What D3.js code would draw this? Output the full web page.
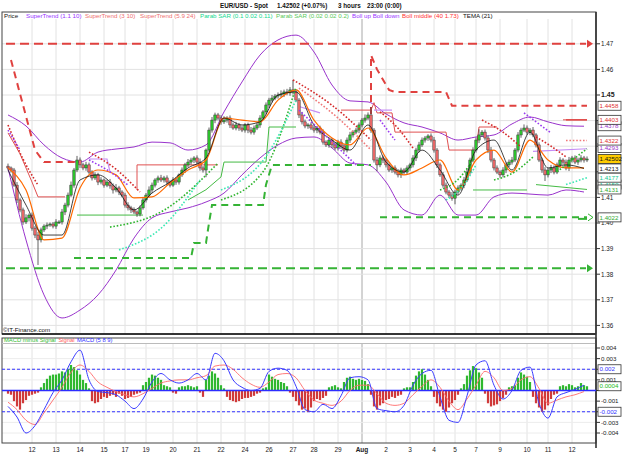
<!DOCTYPE html>
<html>
<head>
<meta charset="utf-8">
<script src="https://cdn.jsdelivr.net/npm/d3@7"></script>
<style>
  body { margin: 0; background: #fff; }
  svg { display: block; font-family: Arial, "Liberation Sans", sans-serif; }
</style>
</head>
<body>
<svg id="chart" width="625" height="455"></svg>
<script>
// ---- data (prices as pips above 1.4000, macd in units of 0.0001) ----
const dateLabels = ['12','13','14','15','17','19','20','21','22','24','26','27','28','29','Aug','2','3','4','5','7','9','10','11','12']
const dateBars = [8,16,24,32,39,46,55,63,71,79,87,95,102,110,118,126,134,142,149,156,164,173,180,188]

const closes = [215,207,148,90,51,4,20,31,-20,-47,-66,-27,-12,-8,-4,-12,4,4,43,70,
  109,148,207,246,227,215,227,199,176,188,160,168,148,160,145,129,137,121,109,70,
  59,51,43,35,59,90,109,129,148,168,176,168,176,160,148,168,160,188,207,227,
  238,246,254,238,215,207,285,363,402,422,410,395,402,410,383,371,383,371,363,383,
  363,355,371,383,410,434,461,480,488,496,500,504,512,508,520,512,480,422,395,379,
  383,371,363,371,355,316,305,324,305,293,316,301,285,324,344,355,363,383,402,410,
  422,363,246,227,254,246,227,207,215,199,188,207,199,215,227,254,285,305,324,332,
  340,324,285,227,188,148,121,109,97,121,137,148,168,199,246,285,324,344,355,332,
  285,246,215,199,188,207,227,238,246,285,344,363,371,355,363,344,305,246,207,188,
  207,215,199,227,246,238,215,246,254,238,246,254,246,250]
const upWick = [10,6,8,12,7,9,14,6,10,8, 12,9,7,10,6,8,11,7,12,9, 10,14,8,16,10,8,12,9,7,10,
  8,11,6,9,12,10,15,8,7,9, 11,8,10,6,9,12,8,14,10,7, 9,12,8,10,7,11,9,6,10,8,
  12,9,7,10,14,8,6,10,12,9, 8,11,15,7,10,9,12,8,10,7, 9,12,10,8,11,7,10,9,12,8,
  10,14,9,12,11,39,10,8,12,9, 7,10,12,8,9,11,7,10,8,12, 9,11,8,10,12,7,9,10,8,14,
  10,31,8,12,10,9,7,11,8,10, 12,9,7,10,8,11,9,12,10,8, 7,10,12,8,9,11,10,8,12,9,
  10,7,12,14,9,11,10,22,8,10, 9,12,8,10,7,11,9,10,12,8, 11,9,14,10,8,12,7,10,9,11,
  8,12,10,9,11,7,10,12,8,10, 9,11,8,10]
const dnWick = [8,10,7,12,9,11,8,14,10,12, 98,10,8,12,7,9,11,8,10,12, 9,7,10,8,12,9,11,7,10,8,
  12,9,10,8,11,14,9,12,8,10, 10,12,8,11,9,7,10,8,12,9, 11,8,10,12,9,7,11,10,8,12,
  9,10,12,8,11,10,28,8,10,12, 9,11,8,10,12,7,9,11,8,10, 12,9,10,8,11,7,10,12,9,8,
  10,8,12,9,11,10,8,12,10,9, 11,8,10,12,9,10,8,11,12,9, 10,12,8,9,11,10,8,12,9,10,
  8,11,10,24,9,12,10,8,11,9, 10,12,9,8,11,10,12,9,8,10, 11,9,10,12,8,10,9,11,10,24,
  9,10,12,8,11,9,10,12,8,10, 12,9,10,8,11,10,12,9,10,8, 9,11,8,10,12,9,10,8,11,24,
  10,12,9,8,11,10,9,12,10,8, 11,9,10,8]

// indicators sampled every 6 bars
const bollUp = [1.4422,1.4379,1.4305,1.4254,1.4238,1.4277,1.4289,1.4297,1.4316,1.4313,1.4285,1.4305,1.4434,
  1.4551,1.4656,1.4715,1.4734,1.4668,1.4539,1.4477,1.4473,1.4426,1.4391,1.4375,1.4352,1.4324,1.4336,1.4344,
  1.4387,1.4414,1.4395,1.4380,1.4378]
const bollDn = [1.4215,1.3934,1.3719,1.3629,1.3660,1.3719,1.3816,1.3941,1.4020,1.4043,1.4059,1.4082,1.4117,
  1.4188,1.4254,1.4305,1.4332,1.4336,1.4293,1.4234,1.4227,1.4160,1.4051,1.4031,1.4109,1.4031,1.4031,1.4102,
  1.4117,1.4113,1.4109,1.4129,1.4121]
const bollMid = [1.4215,1.4129,1.3934,1.3941,1.4137,1.4207,1.4188,1.4098,1.4102,1.4156,1.4207,1.4246,1.4410,
  1.4402,1.4395,1.4480,1.4520,1.4402,1.4332,1.4305,1.4371,1.4254,1.4188,1.4215,1.4246,1.4129,1.4246,1.4285,
  1.4199,1.4324,1.4246,1.4215,1.4215]
const tema = [1.4207,1.4070,1.3953,1.3953,1.4168,1.4188,1.4137,1.4051,1.4117,1.4160,1.4215,1.4254,1.4410,
  1.4383,1.4395,1.4500,1.4512,1.4383,1.4324,1.4285,1.4383,1.4238,1.4199,1.4285,1.4207,1.4109,1.4285,1.4324,
  1.4207,1.4355,1.4215,1.4227,1.4213]

// SuperTrend / SAR runs as [bar, price]
const levelLines = [1.4700, 1.3823]
const stThickRed = [
  [[1,1.4637],[9,1.4285],[12,1.4238],[24,1.4238]],
  [[121,1.4426],[121,1.4656],[123,1.4600],[127,1.4520],[129,1.4512],[146,1.4512],[148,1.4458],[193,1.4458]]
]
const stThickGreen = [
  [[22,1.3863],[61,1.3863],[62,1.3922],[66,1.3922],[67,1.4000],[68,1.4070],[85,1.4070],[86,1.4150],[88,1.4227],[121,1.4227]],
  [[124,1.4022],[193,1.4022]]
]
const stThinRed = [
  [[0,1.4352],[4,1.4270],[8,1.4160],[10,1.4102],[19,1.4102]],
  [[43,1.4129],[43,1.4227],[70,1.4227]],
  [[111,1.4441],[121,1.4441],[122,1.4470],[123,1.4430],[128,1.4430],[129,1.4355],[146,1.4355],[147,1.4285],[156,1.4285],[157,1.4375],[163,1.4375]],
  [[185,1.4403],[193,1.4403]]
]
const stThinGreen = [
  [[23,1.4031],[45,1.4031]],
  [[60,1.4090],[66,1.4130],[71,1.4180],[72,1.4238],[86,1.4238],[87,1.4375],[96,1.4375]],
  [[155,1.4129],[173,1.4129]],
  [[176,1.4150],[193,1.4131]]
]
const stLavender = [
  [[27,1.4250],[33,1.4250],[34,1.4200]],
  [[97,1.4455],[104,1.4430]],
  [[122,1.4441],[128,1.4441]],
  [[175,1.4280],[193,1.4290]]
]
const sarRed = [
  [[0,1.4383],[5,1.4250],[10,1.4148]],
  [[27,1.4277],[36,1.4210],[44,1.4121]],
  [[95,1.4559],[108,1.4460],[121,1.4324]],
  [[124,1.4434],[130,1.4370],[135,1.4293]],
  [[158,1.4402],[165,1.4355],[171,1.4297]],
  [[176,1.4336],[181,1.4300],[186,1.4258]]
]
const sarRedLight = [
  [[97,1.4527],[110,1.4410],[121,1.4285]],
  [[186,1.4322],[193,1.4322]]
]
const sarGreen = [
  [[34,1.3984],[52,1.4050],[70,1.4234]],
  [[71,1.4090],[85,1.4200],[96,1.4531]],
  [[144,1.4129],[150,1.4170],[155,1.4246]],
  [[162,1.4168],[169,1.4200],[175,1.4258]],
  [[183,1.4200],[193,1.4290]]
]
const sarMint = [
  [[37,1.3895],[52,1.3990],[64,1.4168]],
  [[71,1.4129],[86,1.4260],[96,1.4480]],
  [[146,1.4090],[152,1.4150],[156,1.4227]],
  [[186,1.4150],[193,1.4177]]
]
const sarPurple = [
  [[0,1.4363],[4,1.4285]],
  [[27,1.4246],[34,1.4200],[40,1.4148]],
  [[97,1.4441],[106,1.4340],[116,1.4227]],
  [[124,1.4402],[129,1.4324]],
  [[172,1.4430],[181,1.4352]]
]

// MACD
const macdHist = [-3,-4,-10,-15,-18,-12,-9,-5,-4,-3, -2,3,7,11,14,15,15,16,18,17, 20,24,22,19,15,10,7,2,-10,-12,
  -11,-8,-6,-7,-5,-4,-6,-3,-5,-8, -7,-6,-4,-3,-2,5,8,12,15,14, 12,10,5,4,3,-2,-3,3,4,4,
  5,4,3,4,-2,-6,10,14,18,16, 12,5,2,-6,-9,-10,-11,-10,-8,-7, -7,-6,-5,-3,-2,2,3,15,13,11,
  10,8,7,4,-2,-6,-10,-14,-18,-17, -20,-16,-10,-8,-9,-7,-5,3,4,5, 3,2,8,12,13,11,10,11,10,9,
  6,-4,-15,-18,-14,-12,-9,-8,-6,-7, -5,-4,2,3,3,8,14,18,20,15, 10,4,-6,-12,-15,-18,-20,-16,-12,-9,
  -4,2,6,14,19,23,21,17,12,-3, -12,-15,-14,-13,-10,-7,-4,3,4,5, 12,17,15,13,8,-6,-12,-16,-20,-18,
  -14,-8,-4,-3,4,5,4,6,5,3, 4,7,5,4]
// sampled every 3 bars
const macdLine = [-15,-25,-40,-33,-18,-2,10,27,38,10,-1,-2,-4,-10,-17,-8,8,16,10,7,10,16,10,35,28,10,3,0,2,18,
  21,19,4,-18,-20,-13,-17,-5,12,13,10,-17,-19,-20,-14,5,16,19,-6,-28,-30,-5,24,28,5,-8,0,19,22,-12,-26,-6,-2,1,5]
const signalLine = [-11,-18,-28,-32,-21,-9,3,17,24,18,8,3,-1,-4,-6,-3,2,7,9,10,10,12,14,23,24,20,12,6,3,8,
  15,16,12,0,-9,-12,-14,-10,0,5,5,-3,-12,-14,-12,-4,4,10,3,-10,-18,-8,5,18,12,0,2,10,13,2,-12,-9,-6,-4,-1]

const priceTicks = [1.36,1.37,1.38,1.39,1.40,1.41,1.42,1.43,1.44,1.45,1.46,1.47]
const macdTicks = [-0.004,-0.003,-0.002,-0.001,0,0.001,0.002,0.003,0.004]
const lastClose = 1.42502

// ---- layout ----
const svg = d3.select('#chart')
const N = closes.length
const left = 2, right = 596
const mainTop = 12, mainBottom = 334
const macdTop = 338, macdBottom = 443
const px = p => 1.4 + p / 10000

const x = d3.scaleLinear().domain([0, N - 1]).range([8, 8 + 3 * (N - 1)])
const y = d3.scaleLinear().domain([1.36, 1.47]).range([325.4, 43.8])
const ym = d3.scaleLinear().domain([-0.004, 0.004]).range([433, 348])

// title
const title = [['EUR/USD - Spot', 220], ['1.42502 (+0.07%)', 277], ['3 hours', 338], ['23:00 (0:00)', 367]]
svg.selectAll('.title').data(title).enter().append('text')
  .attr('x', d => d[1]).attr('y', 8).attr('font-size', 6.3).attr('font-weight', 'bold')
  .attr('fill', '#111').text(d => d[0])

// grids
const grid = svg.append('g')
grid.selectAll('.vg').data(dateBars).enter().append('line')
  .attr('x1', d => x(d)).attr('x2', d => x(d))
  .attr('y1', 19).attr('y2', mainBottom)
  .attr('stroke', (d, i) => dateLabels[i] === 'Aug' ? '#a8a8a8' : '#e2e2e2')
grid.selectAll('.vg2').data(dateBars).enter().append('line')
  .attr('x1', d => x(d)).attr('x2', d => x(d))
  .attr('y1', 344).attr('y2', macdBottom)
  .attr('stroke', (d, i) => dateLabels[i] === 'Aug' ? '#a8a8a8' : '#e2e2e2')
grid.selectAll('.hg').data(priceTicks).enter().append('line')
  .attr('x1', left).attr('x2', right)
  .attr('y1', d => y(d)).attr('y2', d => y(d)).attr('stroke', '#e2e2e2')
grid.selectAll('.hg2').data(macdTicks).enter().append('line')
  .attr('x1', left).attr('x2', right)
  .attr('y1', d => ym(d)).attr('y2', d => ym(d)).attr('stroke', '#ececec')

const line = d3.line().x(d => x(d[0])).y(d => y(d[1]))
const smooth = (arr, step) => d3.line().curve(d3.curveMonotoneX)
  .x((d, i) => x(Math.min(i * step, N - 1))).y(d => y(d))(arr)

const plot = svg.append('g')

// bollinger bands
plot.append('path').attr('d', smooth(bollUp, 6)).attr('fill', 'none').attr('stroke', '#9933cc').attr('stroke-width', 1)
plot.append('path').attr('d', smooth(bollDn, 6)).attr('fill', 'none').attr('stroke', '#9933cc').attr('stroke-width', 1)

// level lines (thick dashed with arrow)
levelLines.forEach((v, i) => {
  const col = i === 0 ? '#e0413f' : '#35b335'
  plot.append('line').attr('x1', 6).attr('x2', 586).attr('y1', y(v)).attr('y2', y(v))
    .attr('stroke', col).attr('stroke-width', 2).attr('stroke-dasharray', '9,5')
  plot.append('path').attr('d', `M587,${y(v) - 4}L593,${y(v)}L587,${y(v) + 4}Z`).attr('fill', col)
})

// supertrend thick dashed
stThickRed.forEach(r => plot.append('path').attr('d', line(r)).attr('fill', 'none')
  .attr('stroke', '#e0413f').attr('stroke-width', 2).attr('stroke-dasharray', '7,5'))
stThickGreen.forEach(r => plot.append('path').attr('d', line(r)).attr('fill', 'none')
  .attr('stroke', '#35b335').attr('stroke-width', 2).attr('stroke-dasharray', '7,5'))
plot.append('line').attr('x1', x(190)).attr('x2', x(193)).attr('y1', y(1.4022) + 1.5).attr('y2', y(1.4022) + 1.5)
  .attr('stroke', '#35b335').attr('stroke-width', 2)
plot.append('path').attr('d', `M588,${y(1.4022) - 3.5}L593,${y(1.4022)}L588,${y(1.4022) + 3.5}`)
  .attr('fill', 'none').attr('stroke', '#35b335')
plot.append('line').attr('x1', x(186)).attr('x2', x(193)).attr('y1', y(1.4403)).attr('y2', y(1.4403))
  .attr('stroke', '#e0413f').attr('stroke-width', 1.5)

// supertrend thin
stThinRed.forEach(r => plot.append('path').attr('d', line(r)).attr('fill', 'none')
  .attr('stroke', '#e05050').attr('stroke-width', 1))
stThinGreen.forEach(r => plot.append('path').attr('d', line(r)).attr('fill', 'none')
  .attr('stroke', '#44bb44').attr('stroke-width', 1))
stLavender.forEach(r => plot.append('path').attr('d', line(r)).attr('fill', 'none')
  .attr('stroke', '#c58cf5').attr('stroke-width', 1.2))

// candles
const bars = closes.map((c, i) => {
  const o = i > 0 ? closes[i - 1] : 222
  return { i, o: px(o), c: px(c), h: px(Math.max(o, c) + upWick[i]), l: px(Math.min(o, c) - dnWick[i]) }
})
const cg = plot.append('g')
cg.selectAll('.wick').data(bars).enter().append('line')
  .attr('x1', d => x(d.i)).attr('x2', d => x(d.i))
  .attr('y1', d => y(d.h)).attr('y2', d => y(d.l))
  .attr('stroke', '#3a3a3a').attr('stroke-width', 0.8)
cg.selectAll('.body').data(bars).enter().append('rect')
  .attr('x', d => x(d.i) - 1.2).attr('width', 2.4)
  .attr('y', d => y(Math.max(d.o, d.c)))
  .attr('height', d => Math.max(1, Math.abs(y(d.o) - y(d.c))))
  .attr('fill', d => d.c >= d.o ? '#2ec82e' : '#f06a6a')
  .attr('stroke', '#333').attr('stroke-width', 0.5)

// boll middle, tema
plot.append('path').attr('d', smooth(bollMid, 6)).attr('fill', 'none').attr('stroke', '#ff6a00').attr('stroke-width', 1.2)
plot.append('path').attr('d', smooth(tema, 6)).attr('fill', 'none').attr('stroke', '#111').attr('stroke-width', 0.8)

// parabolic SAR style dotted runs
const dotted = (runs, col) => runs.forEach(r => plot.append('path')
  .attr('d', d3.line().curve(d3.curveMonotoneX).x(d => x(d[0])).y(d => y(d[1]))(r))
  .attr('fill', 'none').attr('stroke', col).attr('stroke-width', 1.6).attr('stroke-dasharray', '1.6,1.8'))
dotted(sarRed, '#d42a2a')
dotted(sarRedLight, '#f07a7a')
dotted(sarGreen, '#2fb52f')
dotted(sarMint, '#3de8b4')
dotted(sarPurple, '#9a3cf0')

// frames
svg.append('rect').attr('x', left).attr('y', mainTop).attr('width', right - left).attr('height', mainBottom - mainTop)
  .attr('fill', 'none').attr('stroke', '#444').attr('stroke-width', 1)
svg.append('line').attr('x1', left).attr('x2', right).attr('y1', mainBottom).attr('y2', mainBottom)
  .attr('stroke', '#111').attr('stroke-width', 1.6)
svg.append('rect').attr('x', left).attr('y', macdTop).attr('width', right - left).attr('height', macdBottom - macdTop)
  .attr('fill', 'none').attr('stroke', '#444').attr('stroke-width', 1)
svg.append('line').attr('x1', left).attr('x2', right).attr('y1', 343.5).attr('y2', 343.5).attr('stroke', '#bbb')
svg.append('line').attr('x1', right).attr('x2', right).attr('y1', mainTop).attr('y2', 448)
  .attr('stroke', '#333').attr('stroke-width', 1.6)

// legend
const legend = [
  ['Price', '#111', 4], ['SuperTrend (1.1 10)', '#9933ff', 26], ['SuperTrend (3 10)', '#ee7070', 85],
  ['SuperTrend (5.9 24)', '#ee7070', 140], ['Parab SAR (0.1 0.02 0.11)', '#10d890', 200],
  ['Parab SAR (0.02 0.02 0.2)', '#5ac85a', 276], ['Boll up Boll down', '#9933ff', 352],
  ['Boll middle (40 1.73)', '#ff3030', 402], ['TEMA (21)', '#111', 463]
]
svg.selectAll('.leg').data(legend).enter().append('text')
  .attr('x', d => d[2]).attr('y', 17.5).attr('font-size', 6.2).attr('fill', d => d[1]).text(d => d[0])
const legend2 = [['MACD minus Signal', '#33bb33'], ['Signal', '#ff5a5a'], ['MACD (5 8 9)', '#3333ff']]
let lx = 4
legend2.forEach(d => {
  const t = svg.append('text').attr('x', lx).attr('y', 342.3).attr('font-size', 5.8).attr('fill', d[1]).text(d[0])
  lx += t.node().getComputedTextLength() + 2.5
})
svg.append('text').attr('x', 3).attr('y', 332).attr('font-size', 6.2).attr('fill', '#111').text('\u00a9IT-Finance.com')

// value boxes (cover some of the axis labels, as in the original)
const boxes = [
  [1.4378, '#9933cc', '#fff'], [1.4293, '#9933cc', '#fff'], [1.4150, '#10c890', '#fff'],
  [1.4458, '#e03030', '#fff'], [1.4403, '#e03030', '#fff'], [1.4322, '#e03030', '#fff'],
  [lastClose, '#111', '#ffcc00'], [1.4213, '#111', '#fff'], [1.4177, '#10c890', '#fff'],
  [1.4131, '#33aa33', '#fff'], [1.4022, '#33aa33', '#fff']
]
const covered = v => boxes.some(b => Math.abs(y(b[0]) - y(v)) < 4.5)

// right price axis
const pAxis = svg.append('g')
pAxis.selectAll('.pt').data(priceTicks).enter().append('line')
  .attr('x1', right).attr('x2', right + 4).attr('y1', d => y(d)).attr('y2', d => y(d)).attr('stroke', '#333')
pAxis.selectAll('.pl').data(priceTicks.filter(d => !covered(d))).enter().append('text')
  .attr('x', right + 5).attr('y', d => y(d) + 2.3)
  .attr('font-size', d => d === 1.45 ? 7 : 6.3).attr('font-weight', d => d === 1.45 ? 'bold' : 'normal')
  .attr('fill', '#222').text(d => d3.format('.2f')(d))

const bg = svg.append('g')
boxes.forEach(b => {
  bg.append('rect').attr('x', 598).attr('y', y(b[0]) - 4.5).attr('width', 23).attr('height', 9)
    .attr('fill', b[2]).attr('stroke', '#333').attr('stroke-width', 0.8)
  bg.append('text').attr('x', 599.5).attr('y', y(b[0]) + 2.2).attr('font-size', 6.2).attr('fill', b[1])
    .text(b[0] === lastClose ? '1.42502' : d3.format('.4f')(b[0]))
})

// MACD panel
const mg = svg.append('g')
mg.append('line').attr('x1', left).attr('x2', right).attr('y1', ym(0.002)).attr('y2', ym(0.002))
  .attr('stroke', '#3333ff').attr('stroke-dasharray', '3,2')
mg.append('line').attr('x1', left).attr('x2', right).attr('y1', ym(-0.002)).attr('y2', ym(-0.002))
  .attr('stroke', '#3333ff').attr('stroke-dasharray', '3,2')
mg.selectAll('.hb').data(macdHist).enter().append('rect')
  .attr('x', (d, i) => x(i) - 1.1).attr('width', 2.2)
  .attr('y', d => ym(Math.max(0, d / 10000)))
  .attr('height', d => Math.abs(ym(d / 10000) - ym(0)))
  .attr('fill', d => d >= 0 ? '#2fb82f' : '#d03a3a')
mg.append('line').attr('x1', left).attr('x2', right).attr('y1', ym(0)).attr('y2', ym(0))
  .attr('stroke', '#2d2dff').attr('stroke-width', 1.4)
const mline = arr => d3.line().curve(d3.curveMonotoneX)
  .x((d, i) => x(Math.min(i * 3, N - 1))).y(d => ym(d / 10000))(arr)
mg.append('path').attr('d', mline(signalLine)).attr('fill', 'none').attr('stroke', '#ff6a6a').attr('stroke-width', 0.9)
mg.append('path').attr('d', mline(macdLine)).attr('fill', 'none').attr('stroke', '#3a3aff').attr('stroke-width', 1)

const mLabels = macdTicks.filter(d => d !== 0 && Math.abs(d) !== 0.002)
mg.selectAll('.mt').data(macdTicks).enter().append('line')
  .attr('x1', right).attr('x2', right + 4).attr('y1', d => ym(d)).attr('y2', d => ym(d)).attr('stroke', '#333')
mg.selectAll('.ml').data(mLabels).enter().append('text')
  .attr('x', right + 5).attr('y', d => ym(d) + 2.2).attr('font-size', 6.2).attr('fill', '#222')
  .text(d => d3.format('.3f')(d).replace('\u2212', '-'))
const mBoxes = [[0.002, '#3333ff', '0.002'], [0.0004, '#22bb22', '0.0004'], [-0.002, '#3333ff', '-0.002']]
mBoxes.forEach(b => {
  mg.append('rect').attr('x', 598).attr('y', ym(b[0]) - 4.5).attr('width', 23).attr('height', 9)
    .attr('fill', '#fff').attr('stroke', '#333').attr('stroke-width', 0.8)
  mg.append('text').attr('x', 599.5).attr('y', ym(b[0]) + 2.2).attr('font-size', 6.2).attr('fill', b[1]).text(b[2])
})

// date axis
const xAxis = svg.append('g')
xAxis.selectAll('.xl').data(dateBars).enter().append('text')
  .attr('x', d => x(d)).attr('y', 452).attr('text-anchor', 'middle')
  .attr('font-size', 6.5).attr('font-weight', (d, i) => dateLabels[i] === 'Aug' ? 'bold' : 'normal')
  .attr('fill', '#222').text((d, i) => dateLabels[i])
</script>
</body>
</html>
